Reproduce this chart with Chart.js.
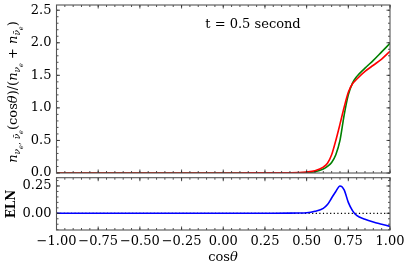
<!DOCTYPE html>
<html>
<head>
<meta charset="utf-8">
<script src="https://cdn.jsdelivr.net/npm/chart.js"></script>
<style>
  body { margin: 0; background: #fff; }
  #wrap { position: relative; width: 407px; height: 271px; overflow: hidden; }
  canvas { position: absolute; left: 0; }
  #topChart { top: 0; }
  #elnChart { top: 172px; }
</style>
</head>
<body>
<div id="wrap">
  <canvas id="topChart" width="407" height="177"></canvas>
  <canvas id="elnChart" width="407" height="99"></canvas>
</div>
<script>
// cos(theta) grid shared by all curves
const cosTheta = [-1.0, -0.9, -0.8, -0.7, -0.6, -0.5, -0.4, -0.3, -0.2, -0.1, 0.0, 0.1, 0.2, 0.3, 0.4, 0.45,
  0.5, 0.55, 0.6, 0.625, 0.65, 0.675, 0.7, 0.725, 0.75, 0.775, 0.8, 0.85, 0.9, 0.95, 1.0];
// nu_e (red) and anti-nu_e (green) angular distributions
const nueVals = [0.001, 0.001, 0.001, 0.001, 0.001, 0.001, 0.001, 0.001, 0.001, 0.001, 0.001, 0.001, 0.002, 0.002, 0.004, 0.007,
  0.015, 0.035, 0.09, 0.15, 0.28, 0.50, 0.75, 1.01, 1.24, 1.37, 1.44, 1.56, 1.655, 1.75, 1.87];
const nuebarVals = [0.0, 0.0, 0.0, 0.0, 0.0, 0.0, 0.0, 0.0, 0.0, 0.0, 0.0, 0.001, 0.001, 0.001, 0.002, 0.004,
  0.008, 0.02, 0.06, 0.10, 0.16, 0.28, 0.50, 0.89, 1.20, 1.38, 1.48, 1.61, 1.73, 1.86, 1.99];
// electron lepton number
const elnVals = [0.0, 0.0, 0.0, 0.0, 0.0, 0.0, 0.0, 0.0, 0.0, 0.0, 0.0, 0.0, 0.001, 0.001, 0.002, 0.003,
  0.005, 0.018, 0.045, 0.08, 0.14, 0.20, 0.25, 0.215, 0.10, 0.025, -0.02, -0.055, -0.08, -0.10, -0.12];

const xTicks = [-1.0, -0.75, -0.5, -0.25, 0.0, 0.25, 0.5, 0.75, 1.0];
const topYTicks = [0.0, 0.5, 1.0, 1.5, 2.0, 2.5];
const elnYTicks = [0.0, 0.25];

const FONT = "'DejaVu Serif', serif";

function pts(ys) {
  return cosTheta.map((x, i) => ({ x: x, y: ys[i] }));
}

function minorList(min, max, step) {
  const out = [];
  for (let v = Math.ceil(min / step - 1e-9) * step; v <= max + 1e-9; v += step) out.push(+v.toFixed(4));
  return out;
}

// matplotlib-style frame with inward ticks on all four sides
const frameTicks = {
  id: "frameTicks",
  afterDraw(chart, args, opts) {
    const { ctx, chartArea: a, scales } = chart;
    const xs = scales.x, ys = scales.y;
    ctx.save();
    ctx.strokeStyle = "#222";
    ctx.lineWidth = 0.8;
    const tick = (list, len) => {
      list.forEach((v) => {
        const px = xs.getPixelForValue(v);
        if (px < a.left - 0.5 || px > a.right + 0.5) return;
        ctx.beginPath();
        ctx.moveTo(px, a.bottom); ctx.lineTo(px, a.bottom - len);
        ctx.moveTo(px, a.top); ctx.lineTo(px, a.top + len);
        ctx.stroke();
      });
    };
    const tickY = (list, len) => {
      list.forEach((v) => {
        const py = ys.getPixelForValue(v);
        if (py < a.top - 0.5 || py > a.bottom + 0.5) return;
        ctx.beginPath();
        ctx.moveTo(a.left, py); ctx.lineTo(a.left + len, py);
        ctx.moveTo(a.right, py); ctx.lineTo(a.right - len, py);
        ctx.stroke();
      });
    };
    tick(minorList(xs.min, xs.max, opts.xMinor), 2);
    tick(xTicks, 3.5);
    tickY(minorList(ys.min, ys.max, opts.yMinor), 2);
    tickY(opts.yMajor, 3.5);
    ctx.strokeStyle = "#555";
    ctx.lineWidth = 1.1;
    ctx.strokeRect(a.left, a.top, a.right - a.left, a.bottom - a.top);
    ctx.restore();
  },
};

// draws rotated math-ish label made of pieces {t, size, dy, style}
function drawRich(ctx, cx, cy, parts) {
  ctx.save();
  ctx.translate(cx, cy);
  ctx.rotate(-Math.PI / 2);
  let w = 0;
  parts.forEach((p) => {
    ctx.font = (p.style || "") + " " + p.size + "px " + FONT;
    w += ctx.measureText(p.t).width;
  });
  let x = -w / 2;
  ctx.fillStyle = "#000";
  ctx.textBaseline = "alphabetic";
  parts.forEach((p) => {
    ctx.font = (p.style || "") + " " + p.size + "px " + FONT;
    ctx.fillText(p.t, x, p.dy || 0);
    x += ctx.measureText(p.t).width;
  });
  ctx.restore();
}

const topLabels = {
  id: "topLabels",
  afterDraw(chart) {
    const ctx = chart.ctx;
    const n = { t: "n", size: 13, style: "italic" };
    const nu = { t: "ν", size: 9, dy: 3, style: "italic" };
    const nub = { t: "ν\u0304", size: 9, dy: 3, style: "italic" };
    const e = { t: "e", size: 6.5, dy: 5.5, style: "italic" };
    drawRich(ctx, 17, 92, [
      n, nu, e, { t: ", ", size: 9, dy: 3 }, nub, e,
      { t: "(cos", size: 13 }, { t: "θ", size: 13, style: "italic" }, { t: ")/(", size: 13 },
      n, nu, e, { t: " + ", size: 13 }, n, nub, e, { t: ")", size: 13 },
    ]);
    ctx.save();
    ctx.font = "13px " + FONT;
    ctx.fillStyle = "#000";
    ctx.textAlign = "center";
    ctx.textBaseline = "middle";
    ctx.fillText("t = 0.5 second", 253, 25);
    ctx.restore();
  },
};

const elnLabels = {
  id: "elnLabels",
  afterDraw(chart) {
    const ctx = chart.ctx;
    ctx.save();
    ctx.fillStyle = "#000";
    ctx.textAlign = "center";
    ctx.textBaseline = "middle";
    ctx.translate(12, 32);
    ctx.rotate(-Math.PI / 2);
    ctx.font = "bold 12px " + FONT;
    ctx.fillText("ELN", 0, 0);
    ctx.restore();
    ctx.save();
    ctx.fillStyle = "#000";
    ctx.textBaseline = "middle";
    ctx.font = "13px " + FONT;
    const w1 = ctx.measureText("cos").width;
    ctx.font = "italic 13px " + FONT;
    const w2 = ctx.measureText("θ").width;
    let x0 = 223 - (w1 + w2) / 2;
    ctx.font = "13px " + FONT;
    ctx.fillText("cos", x0, 86);
    ctx.font = "italic 13px " + FONT;
    ctx.fillText("θ", x0 + w1, 86);
    ctx.restore();
  },
};

const fmtMinus = (s) => s.replace("-", "\u2212");

const noPad = (s) => { s.paddingTop = 0; s.paddingBottom = 0; s.paddingLeft = 0; s.paddingRight = 0; };

const commonX = {
  type: "linear", min: -1, max: 1,
  grid: { display: false, drawTicks: false },
  border: { display: false },
};

new Chart(document.getElementById("topChart"), {
  type: "line",
  data: {
    datasets: [
      { data: pts(nueVals), borderColor: "#ff0000", borderWidth: 1.6, pointRadius: 0, cubicInterpolationMode: "monotone" },
      { data: pts(nuebarVals), borderColor: "#008000", borderWidth: 1.6, pointRadius: 0, cubicInterpolationMode: "monotone" },
    ],
  },
  options: {
    responsive: false, animation: false,
    layout: { padding: { top: 5, right: 17, bottom: 4, left: 0 } },
    plugins: { legend: { display: false }, tooltip: { enabled: false },
      frameTicks: { xMinor: 0.05, yMinor: 0.1, yMajor: topYTicks } },
    scales: {
      x: Object.assign({}, commonX, { display: false }),
      y: {
        min: 0, max: 2.58,
        grid: { display: false, drawTicks: false },
        border: { display: false },
        afterBuildTicks: (s) => { s.ticks = topYTicks.map((v) => ({ value: v })); },
        afterFit: (s) => { s.width = 56.5; noPad(s); },
        ticks: { padding: 5, color: "#000", font: { family: FONT, size: 13 }, callback: (v) => v.toFixed(1) },
      },
    },
  },
  plugins: [frameTicks, topLabels],
});

new Chart(document.getElementById("elnChart"), {
  type: "line",
  data: {
    datasets: [
      { data: pts(elnVals), borderColor: "#0000ff", borderWidth: 1.6, pointRadius: 0, cubicInterpolationMode: "monotone" },
      { data: [{ x: -1, y: 0 }, { x: 1, y: 0 }], borderColor: "#000", borderWidth: 1.2, borderDash: [1.2, 2.4], pointRadius: 0 },
    ],
  },
  options: {
    responsive: false, animation: false,
    layout: { padding: { top: 5.7, right: 17, bottom: 0, left: 0 } },
    plugins: { legend: { display: false }, tooltip: { enabled: false },
      frameTicks: { xMinor: 0.05, yMinor: 0.05, yMajor: elnYTicks } },
    scales: {
      x: Object.assign({}, commonX, {
        afterBuildTicks: (s) => { s.ticks = xTicks.map((v) => ({ value: v })); },
        afterFit: (s) => { s.height = 41; noPad(s); },
        ticks: { padding: 4, maxRotation: 0, autoSkip: false, color: "#000", font: { family: FONT, size: 13 },
          callback: (v) => fmtMinus(v.toFixed(2)) },
      }),
      y: {
        min: -0.153, max: 0.326,
        grid: { display: false, drawTicks: false },
        border: { display: false },
        afterBuildTicks: (s) => { s.ticks = elnYTicks.map((v) => ({ value: v })); },
        afterFit: (s) => { s.width = 56.5; noPad(s); },
        ticks: { padding: 5, color: "#000", font: { family: FONT, size: 13 }, callback: (v) => v.toFixed(2) },
      },
    },
  },
  plugins: [frameTicks, elnLabels],
});
</script>
</body>
</html>
